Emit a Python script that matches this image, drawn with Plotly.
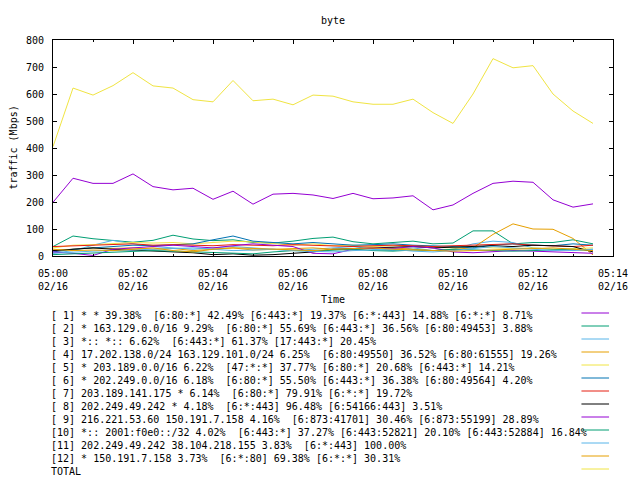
import pandas as pd
import plotly.graph_objects as go

# sample times: every 30 seconds from 05:00:00 to 05:13:30
times = pd.date_range("2023-02-16 05:00:00", periods=28, freq="30s")

labels = [
    "[ 1] * * 39.38%  [6:80:*] 42.49% [6:443:*] 19.37% [6:*:443] 14.88% [6:*:*] 8.71%",
    "[ 2] * 163.129.0.0/16 9.29%  [6:80:*] 55.69% [6:443:*] 36.56% [6:80:49453] 3.88%",
    "[ 3] *:: *:: 6.62%  [6:443:*] 61.37% [17:443:*] 20.45%",
    "[ 4] 17.202.138.0/24 163.129.101.0/24 6.25%  [6:80:49550] 36.52% [6:80:61555] 19.26%",
    "[ 5] * 203.189.0.0/16 6.22%  [47:*:*] 37.77% [6:80:*] 20.68% [6:443:*] 14.21%",
    "[ 6] * 202.249.0.0/16 6.18%  [6:80:*] 55.50% [6:443:*] 36.38% [6:80:49564] 4.20%",
    "[ 7] 203.189.141.175 * 6.14%  [6:80:*] 79.91% [6:*:*] 19.72%",
    "[ 8] 202.249.49.242 * 4.18%  [6:*:443] 96.48% [6:54166:443] 3.51%",
    "[ 9] 216.221.53.60 150.191.7.158 4.16%  [6:873:41701] 30.46% [6:873:55199] 28.89%",
    "[10] *:: 2001:f0e0::/32 4.02%  [6:443:*] 37.27% [6:443:52821] 20.10% [6:443:52884] 16.84%",
    "[11] 202.249.49.242 38.104.218.155 3.83%  [6:*:443] 100.00%",
    "[12] * 150.191.7.158 3.73%  [6:*:80] 69.38% [6:*:*] 30.31%",
    "TOTAL",
]

s1 = [199, 288, 269, 269, 304, 257, 245, 251, 210, 240, 192, 229, 232, 226,
      213, 232, 212, 215, 223, 171, 189, 232, 269, 277, 273, 208, 181, 193]
s2 = [35, 74, 64, 58, 51, 58, 77, 63, 57, 60, 50, 48, 55, 65,
      70, 53, 45, 50, 55, 45, 48, 93, 93, 45, 50, 50, 60, 45]
s3 = [10, 20, 40, 58, 45, 35, 30, 25, 30, 35, 30, 25, 20, 25,
      30, 35, 25, 20, 30, 20, 25, 45, 55, 50, 30, 25, 20, 25]
s4 = [20, 25, 30, 28, 30, 25, 28, 20, 25, 30, 22, 25, 28, 30,
      25, 22, 28, 30, 25, 20, 25, 30, 80, 119, 100, 99, 65, 4]
s5 = [30, 40, 42, 45, 50, 48, 50, 45, 50, 55, 52, 45, 40, 45,
      38, 40, 35, 38, 35, 32, 30, 35, 30, 28, 30, 25, 28, 30]
s6 = [15, 25, 30, 35, 40, 38, 42, 45, 60, 74, 55, 50, 45, 50,
      45, 40, 42, 45, 40, 38, 35, 30, 40, 45, 40, 38, 45, 40]
s7 = [35, 38, 40, 42, 45, 40, 42, 40, 38, 42, 40, 38, 42, 40,
      38, 35, 38, 40, 38, 35, 38, 40, 42, 45, 40, 38, 35, 40]
s8 = [20, 25, 30, 25, 22, 20, 15, 12, 5, 8, 3, 5, 10, 15,
      25, 28, 30, 32, 35, 30, 32, 35, 38, 35, 40, 38, 35, 15]
s9 = [15, 10, 2, 25, 30, 35, 40, 35, 30, 38, 45, 40, 35, 10,
      8, 25, 30, 28, 35, 30, 15, 12, 15, 20, 18, 15, 12, 10]
s10 = [5, 8, 10, 12, 15, 20, 18, 15, 12, 10, 8, 15, 20, 18,
       22, 25, 20, 18, 22, 20, 25, 22, 20, 18, 20, 22, 25, 20]
s11 = [10, 15, 18, 20, 22, 25, 28, 30, 25, 20, 22, 25, 20, 18,
       15, 20, 22, 25, 18, 15, 20, 28, 35, 30, 25, 20, 22, 25]
s12 = [25, 20, 22, 20, 25, 30, 20, 15, 25, 30, 28, 25, 22, 20,
       25, 28, 30, 25, 22, 20, 18, 20, 22, 25, 28, 30, 25, 20]
total = [405, 622, 596, 631, 679, 630, 622, 579, 571, 650, 575, 581, 560, 596,
         592, 571, 562, 562, 581, 531, 491, 600, 731, 697, 705, 600, 537, 491]

series = [s1, s2, s3, s4, s5, s6, s7, s8, s9, s10, s11, s12, total]

# gnuplot default line colours, cycling
palette = ['#9400D3', '#009E73', '#56B4E9', '#E69F00', '#F0E442',
           '#0072B2', '#E51E10', '#000000']
colors = [palette[i % len(palette)] for i in range(len(series))]

FONT = "DejaVu Sans Mono"
W, H = 640, 480
# plot box in pixels
X0, X1, Y0, Y1 = 53, 621, 40, 256
pw, ph = X1 - X0, Y1 - Y0


def px_x(x):
    return (x - X0) / pw


def px_y(y):
    return (Y1 - y) / ph


fig = go.Figure()
for vals, name, col in zip(series, labels, colors):
    fig.add_trace(go.Scatter(
        x=times, y=vals, name=name, mode='lines',
        line=dict(color=col, width=1), showlegend=False
    ))

# legend drawn gnuplot style: text left, line sample right
annotations = []
shapes = []
for i, (name, col) in enumerate(zip(labels, colors)):
    ty = 315 + 13 * i
    ly = 313 + 13 * i
    annotations.append(dict(
        text=name.replace("  ", " \u00a0"), x=px_x(49), y=px_y(ty),
        xref='paper', yref='paper', xanchor='left', yanchor='middle',
        showarrow=False, font=dict(family=FONT, size=10, color='black')
    ))
    shapes.append(dict(
        type='line', xref='paper', yref='paper',
        x0=px_x(589), x1=px_x(617), y0=px_y(ly), y1=px_y(ly),
        line=dict(color=col, width=1)
    ))

annotations.append(dict(
    text="Time", x=px_x(337), y=px_y(299), xref='paper', yref='paper',
    xanchor='center', yanchor='middle', showarrow=False,
    font=dict(family=FONT, size=10, color='black')
))
annotations.append(dict(
    text="traffic (Mbps)", x=px_x(12), y=px_y(148), xref='paper', yref='paper',
    xanchor='center', yanchor='middle', showarrow=False, textangle=-90,
    font=dict(family=FONT, size=10, color='black')
))

fig.update_layout(
    width=W, height=H,
    margin=dict(l=X0, r=W - X1, t=Y0, b=H - Y1),
    paper_bgcolor='white', plot_bgcolor='white',
    font=dict(family=FONT, size=10, color='black'),
    title=dict(text="byte", x=px_x(337), xref='paper', y=1 - 20 / H,
               yanchor='middle', xanchor='center',
               font=dict(family=FONT, size=10, color='black')),
    xaxis=dict(
        range=["2023-02-16 05:00:00", "2023-02-16 05:14:00"],
        tick0="2023-02-16 05:00:00", dtick=120000,
        tickformat="%H:%M<br>%m/%d",
        ticks='inside', ticklen=4, tickcolor='black',
        minor=dict(dtick=60000, ticks='inside', ticklen=2, tickcolor='black'),
        showline=True, linecolor='black', linewidth=1, mirror='ticks',
        showgrid=False, zeroline=False, ticklabelstandoff=8,
        ticklabeloverflow='allow'
    ),
    yaxis=dict(
        range=[0, 800], dtick=100,
        ticks='inside', ticklen=4, tickcolor='black',
        showline=True, linecolor='black', linewidth=1, mirror='ticks',
        showgrid=False, zeroline=False, ticklabelstandoff=6
    ),
    annotations=annotations,
    shapes=shapes
)

# drop the default page margin so the 640x480 figure fills the window exactly
fig.write_html(
    "out.html",
    config={'displayModeBar': False},
    post_script="document.body.style.margin='0';"
                "document.documentElement.style.overflow='hidden';"
)
